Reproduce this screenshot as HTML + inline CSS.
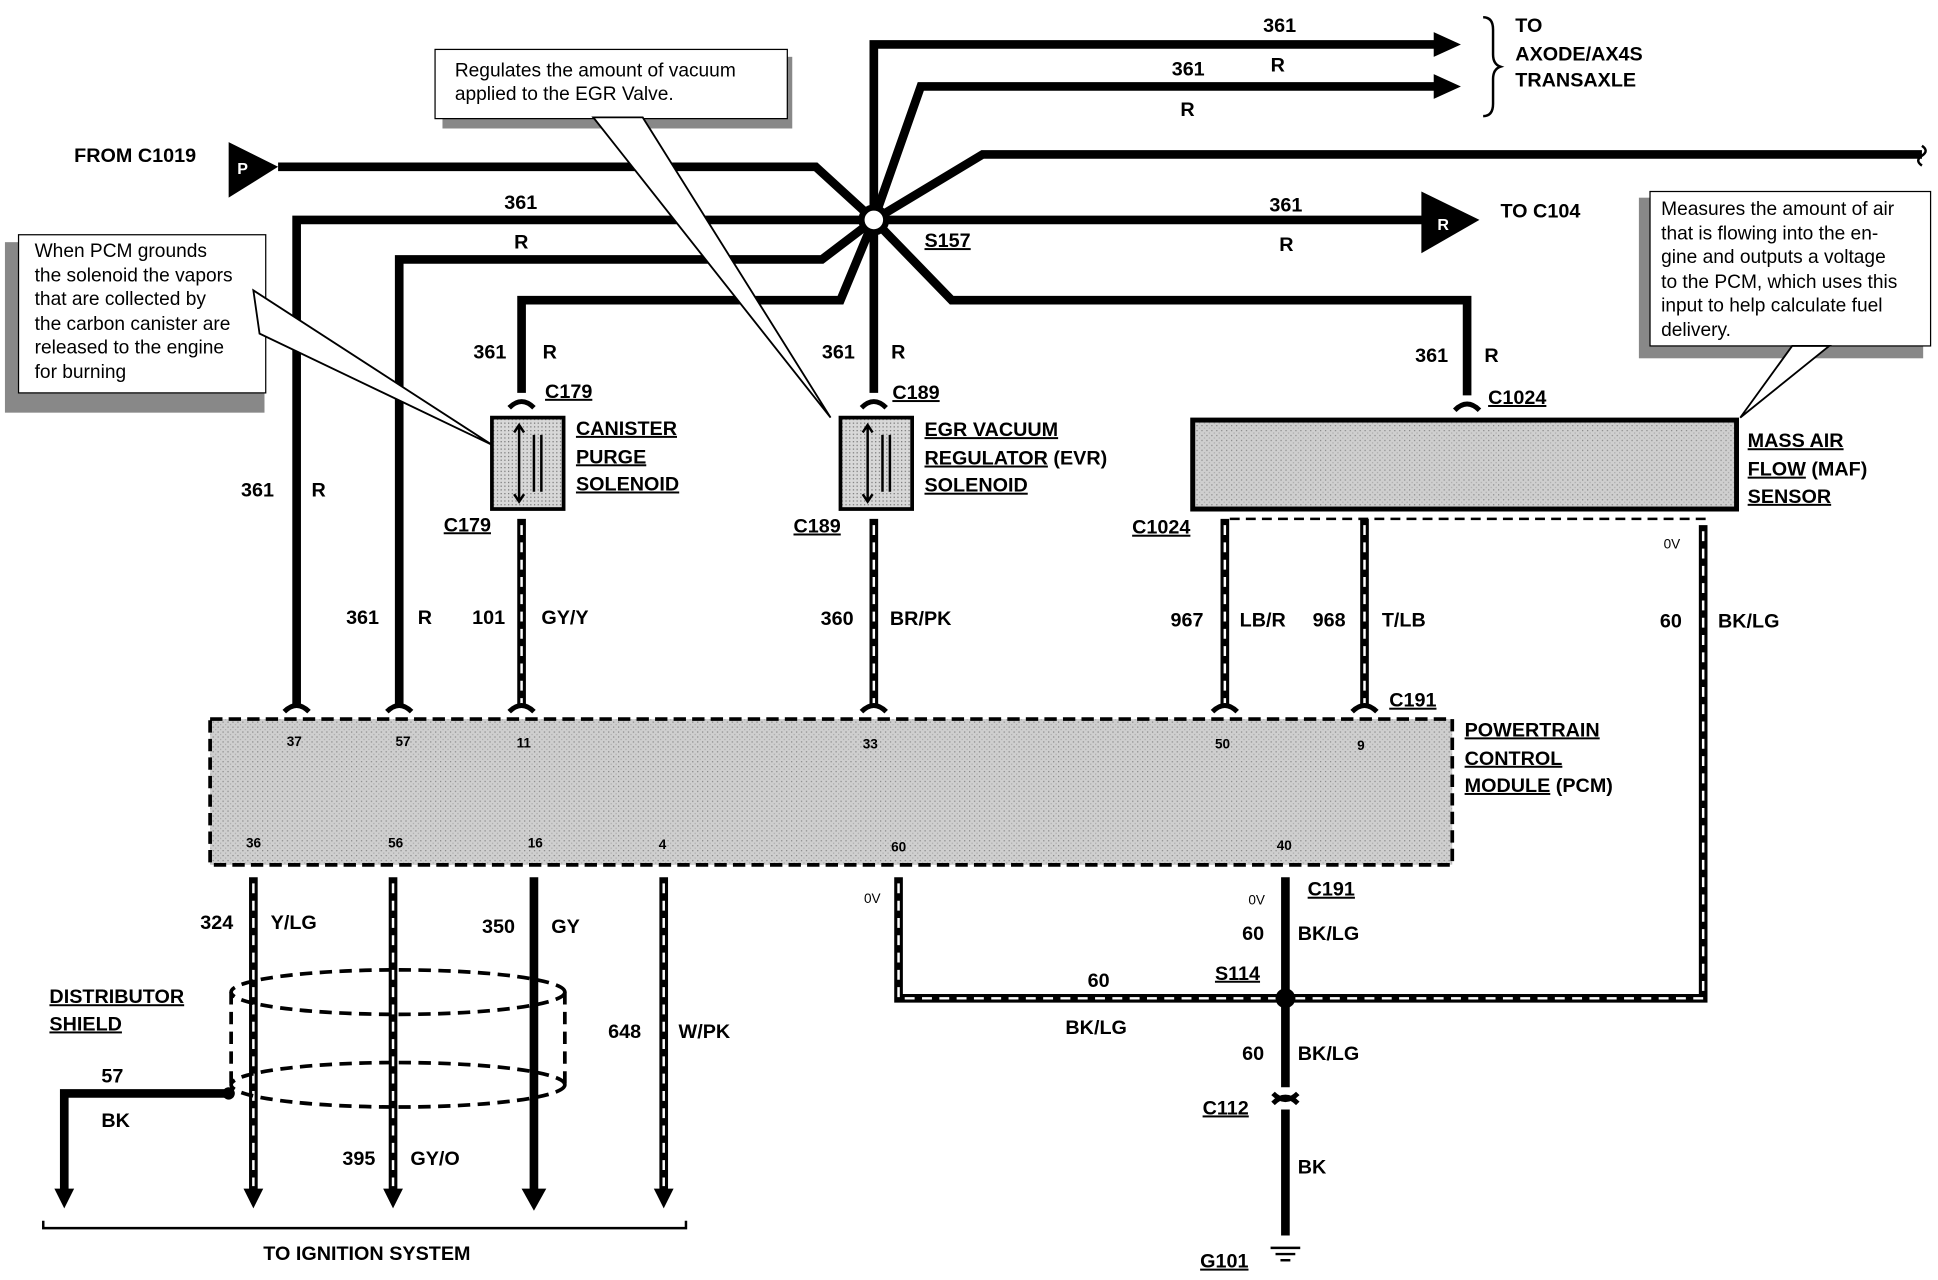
<!DOCTYPE html>
<html><head><meta charset="utf-8"><style>
html,body{margin:0;padding:0;background:#fff}
svg{display:block}
text{font-family:"Liberation Sans",Arial,sans-serif;font-weight:bold;fill:#000}
.l{font-size:16px}
.s{font-size:11px}
.c{font-size:15.5px;font-weight:normal}
.u{text-decoration:underline}
</style></head><body>
<svg width="1938" height="1280" viewBox="0 0 1568 1036" preserveAspectRatio="none" xmlns="http://www.w3.org/2000/svg">
<defs>
<pattern id="dots" width="3" height="3" patternUnits="userSpaceOnUse"><rect width="3" height="3" fill="#d8d8d8"/><rect width="1" height="1" fill="#777"/></pattern>
<pattern id="dots2" width="4" height="4" patternUnits="userSpaceOnUse"><rect width="4" height="4" fill="#cfcfcf"/><rect width="1" height="1" fill="#888"/><rect x="2" y="2" width="1" height="1" fill="#aaa"/></pattern>
</defs>
<g fill="none" stroke="#000" stroke-width="7" stroke-linejoin="miter">
<polyline points="707,178 707,36 1162,36"/>
<polyline points="707,178 745,70 1162,70"/>
<polyline points="707,178 795,125 1555,125"/>
<polyline points="707,178 1155,178"/>
<polyline points="225,135 660,135 707,178"/>
<polyline points="707,178 660,178 240,178 240,572"/>
<polyline points="707,178 665,210 323,210 323,572"/>
<polyline points="707,178 680,243 422,243 422,318"/>
<polyline points="707,178 707,318"/>
<polyline points="707,178 770,243 1187,243 1187,320"/>
<line x1="422" y1="420" x2="422" y2="572"/>
<line x1="707" y1="420" x2="707" y2="572"/>
<line x1="991" y1="420" x2="991" y2="572"/>
<line x1="1104" y1="420" x2="1104" y2="572"/>
<polyline points="1378,425 1378,808 1045,808"/>
<polyline points="727,710 727,808 1035,808"/>
<line x1="1040" y1="710" x2="1040" y2="880"/>
<line x1="1040" y1="898" x2="1040" y2="1000"/>
<line x1="205" y1="710" x2="205" y2="965"/>
<line x1="318" y1="710" x2="318" y2="965"/>
<line x1="432" y1="710" x2="432" y2="965"/>
<line x1="537" y1="710" x2="537" y2="965"/>
<polyline points="185,885 52,885 52,965"/>
</g>
<g fill="none" stroke="#fff" stroke-width="2" stroke-dasharray="8 6">
<line x1="422" y1="425" x2="422" y2="570"/>
<line x1="991" y1="425" x2="991" y2="570"/>
<line x1="1104" y1="425" x2="1104" y2="570"/>
<line x1="707" y1="425" x2="707" y2="570"/>
<polyline points="1378,430 1378,808 1045,808"/>
<polyline points="727,715 727,808 1035,808"/>
<line x1="205" y1="715" x2="205" y2="960"/>
<line x1="318" y1="715" x2="318" y2="960"/>
<line x1="537" y1="715" x2="537" y2="960"/>
</g>
<g fill="#000">
<polygon points="1160,26 1182,36 1160,46"/>
<polygon points="1160,60 1182,70 1160,80"/>
<polygon points="1150,155 1197,178 1150,205"/>
<polygon points="185,115 225,135 185,160"/>
<polygon points="44,962 60,962 52,978"/>
<polygon points="197,962 213,962 205,978"/>
<polygon points="310,962 326,962 318,978"/>
<polygon points="422,962 442,962 432,980"/>
<polygon points="529,962 545,962 537,978"/>
<circle cx="1040" cy="808" r="8"/>
<circle cx="185" cy="885" r="5"/>
</g>
<text x="1163" y="186" style="font-size:13px;fill:#fff">R</text>
<text x="192" y="141" style="font-size:13px;fill:#fff">P</text>
<circle cx="707" cy="178" r="10" fill="#fff" stroke="#000" stroke-width="5"/>
<path d="M1555,118 q6,4 0,8 q-6,4 0,8" fill="none" stroke="#000" stroke-width="2"/>
<path d="M1200,14 q8,0 8,10 v20 q0,8 6,10 q-6,2 -6,10 v20 q0,10 -8,10" fill="none" stroke="#000" stroke-width="2"/>
<g fill="none" stroke="#000" stroke-width="4">
<path d="M412,330 q10,-10 20,0"/><path d="M697,330 q10,-10 20,0"/><path d="M1177,332 q10,-10 20,0"/>
<path d="M230,576 q10,-10 20,0"/><path d="M313,576 q10,-10 20,0"/><path d="M412,576 q10,-10 20,0"/><path d="M697,576 q10,-10 20,0"/><path d="M981,576 q10,-10 20,0"/><path d="M1094,576 q10,-10 20,0"/>
<path d="M1030,893 q10,-10 20,0"/><path d="M1030,885 q10,10 20,0"/>
</g>
<rect x="398" y="338" width="58" height="74" fill="url(#dots)" stroke="#000" stroke-width="3"/>
<rect x="680" y="338" width="58" height="74" fill="url(#dots)" stroke="#000" stroke-width="3"/>
<g fill="none" stroke="#000" stroke-width="2">
<path d="M420,345 v60 M416,350 l4,-6 l4,6 M416,400 l4,6 l4,-6 M432,352 v46 M438,352 v46"/>
<path d="M702,345 v60 M698,350 l4,-6 l4,6 M698,400 l4,6 l4,-6 M714,352 v46 M720,352 v46"/>
</g>
<rect x="965" y="340" width="440" height="72" fill="url(#dots2)" stroke="#000" stroke-width="4"/>
<rect x="170" y="582" width="1005" height="118" fill="url(#dots2)" stroke="#000" stroke-width="3" stroke-dasharray="10 5"/>
<line x1="995" y1="420" x2="1380" y2="420" stroke="#000" stroke-width="2" stroke-dasharray="8 5"/>
<g fill="none" stroke="#000" stroke-width="3" stroke-dasharray="10 6">
<ellipse cx="322" cy="803" rx="135" ry="18"/>
<ellipse cx="322" cy="878" rx="135" ry="18"/>
<line x1="187" y1="803" x2="187" y2="878"/><line x1="457" y1="803" x2="457" y2="878"/>
</g>
<path d="M35,988 v6 h520 v-6" fill="none" stroke="#000" stroke-width="2"/>
<g stroke="#000" stroke-width="2"><line x1="1028" y1="1010" x2="1052" y2="1010"/><line x1="1032" y1="1015" x2="1048" y2="1015"/><line x1="1036" y1="1020" x2="1044" y2="1020"/></g>
<rect x="358" y="46" width="283" height="58" fill="#888"/>
<rect x="352" y="40" width="285" height="56" fill="#fff" stroke="#000"/>
<rect x="4" y="196" width="210" height="138" fill="#888"/>
<rect x="15" y="190" width="200" height="128" fill="#fff" stroke="#000"/>
<rect x="1326" y="160" width="230" height="130" fill="#888"/>
<rect x="1335" y="155" width="227" height="125" fill="#fff" stroke="#000"/>
<g fill="#fff" stroke="#000" stroke-width="1.5">
<polygon points="480,95 520,95 672,338"/>
<polygon points="205,235 210,270 398,360"/>
<polygon points="1450,280 1480,280 1408,338"/>
</g>
<g class="c">
<text x="368" y="62" class="c">Regulates the amount of vacuum</text>
<text x="368" y="81" class="c">applied to the EGR Valve.</text>
<text x="28" y="208" class="c">When PCM grounds</text>
<text x="28" y="228" class="c">the solenoid the vapors</text>
<text x="28" y="247" class="c">that are collected by</text>
<text x="28" y="267" class="c">the carbon canister are</text>
<text x="28" y="286" class="c">released to the engine</text>
<text x="28" y="306" class="c">for burning</text>
<text x="1344" y="174" class="c">Measures the amount of air</text>
<text x="1344" y="194" class="c">that is flowing into the en-</text>
<text x="1344" y="213" class="c">gine and outputs a voltage</text>
<text x="1344" y="233" class="c">to the PCM, which uses this</text>
<text x="1344" y="252" class="c">input to help calculate fuel</text>
<text x="1344" y="272" class="c">delivery.</text>
</g>
<g class="l">
<text x="1022" y="26">361</text>
<text x="948" y="61">361</text><text x="1028" y="58">R</text><text x="955" y="94">R</text>
<text x="1226" y="26">TO</text><text x="1226" y="49">AXODE/AX4S</text><text x="1226" y="70">TRANSAXLE</text>
<text x="60" y="131">FROM C1019</text>
<text x="408" y="169">361</text><text x="416" y="201">R</text>
<text x="1027" y="171">361</text><text x="1035" y="203">R</text>
<text x="1214" y="176">TO C104</text>
<text x="748" y="200" class="u">S157</text>
<text x="383" y="290">361</text><text x="439" y="290">R</text>
<text x="665" y="290">361</text><text x="721" y="290">R</text>
<text x="1145" y="293">361</text><text x="1201" y="293">R</text>
<text x="441" y="322" class="u">C179</text><text x="722" y="323" class="u">C189</text><text x="1204" y="327" class="u">C1024</text>
<text x="466" y="352" class="u">CANISTER</text><text x="466" y="375" class="u">PURGE</text><text x="466" y="397" class="u">SOLENOID</text>
<text x="748" y="353" class="u">EGR VACUUM</text><text x="748" y="376"><tspan class="u">REGULATOR</tspan> (EVR)</text><text x="748" y="398" class="u">SOLENOID</text>
<text x="1414" y="362" class="u">MASS AIR</text><text x="1414" y="385"><tspan class="u">FLOW</tspan> (MAF)</text><text x="1414" y="407" class="u">SENSOR</text>
<text x="195" y="402">361</text><text x="252" y="402">R</text>
<text x="359" y="430" class="u">C179</text><text x="642" y="431" class="u">C189</text><text x="916" y="432" class="u">C1024</text>
<text x="280" y="505">361</text><text x="338" y="505">R</text>
<text x="382" y="505">101</text><text x="438" y="505">GY/Y</text>
<text x="664" y="506">360</text><text x="720" y="506">BR/PK</text>
<text x="947" y="507">967</text><text x="1003" y="507">LB/R</text>
<text x="1062" y="507">968</text><text x="1118" y="507">T/LB</text>
<text x="1343" y="508">60</text><text x="1390" y="508">BK/LG</text>
<text x="1124" y="572" class="u">C191</text>
<text x="1185" y="596" class="u">POWERTRAIN</text><text x="1185" y="619" class="u">CONTROL</text><text x="1185" y="641"><tspan class="u">MODULE</tspan> (PCM)</text>
<text x="1058" y="725" class="u">C191</text>
<text x="162" y="752">324</text><text x="219" y="752">Y/LG</text>
<text x="390" y="755">350</text><text x="446" y="755">GY</text>
<text x="1005" y="761">60</text><text x="1050" y="761">BK/LG</text>
<text x="983" y="793" class="u">S114</text>
<text x="880" y="799">60</text><text x="862" y="837">BK/LG</text>
<text x="40" y="812" class="u">DISTRIBUTOR</text><text x="40" y="834" class="u">SHIELD</text>
<text x="492" y="840">648</text><text x="549" y="840">W/PK</text>
<text x="1005" y="858">60</text><text x="1050" y="858">BK/LG</text>
<text x="82" y="876">57</text><text x="82" y="912">BK</text>
<text x="973" y="902" class="u">C112</text>
<text x="277" y="943">395</text><text x="332" y="943">GY/O</text>
<text x="1050" y="950">BK</text>
<text x="213" y="1020">TO IGNITION SYSTEM</text>
<text x="971" y="1026" class="u">G101</text>
</g>
<g class="s">
<text x="232" y="604">37</text><text x="320" y="604">57</text><text x="418" y="605">11</text><text x="698" y="606">33</text><text x="983" y="606">50</text><text x="1098" y="607">9</text>
<text x="199" y="686">36</text><text x="314" y="686">56</text><text x="427" y="686">16</text><text x="533" y="687">4</text><text x="721" y="689">60</text><text x="1033" y="688">40</text>
<text x="699" y="731" style="font-weight:normal">0V</text><text x="1010" y="732" style="font-weight:normal">0V</text><text x="1346" y="444" style="font-weight:normal">0V</text>
</g>
</svg>
</body></html>
